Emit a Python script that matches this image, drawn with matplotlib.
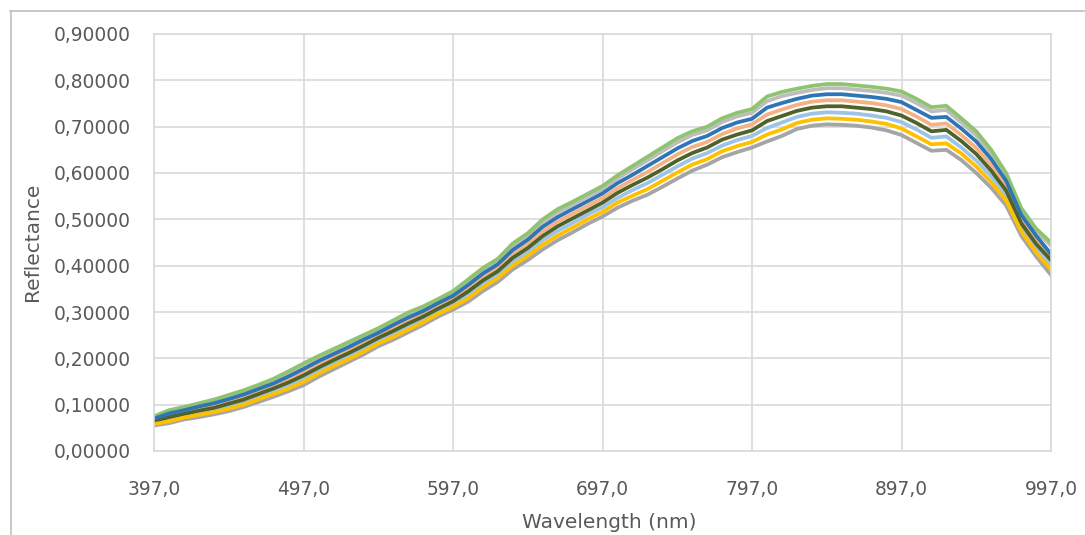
import matplotlib
matplotlib.use("Agg")
import matplotlib.pyplot as plt
from matplotlib.lines import Line2D
from matplotlib.ticker import FuncFormatter

# длины волн (нм), шаг 10
wavelength = [397, 407, 417, 427, 437, 447, 457, 467, 477, 487,
              497, 507, 517, 527, 537, 547, 557, 567, 577, 587,
              597, 607, 617, 627, 637, 647, 657, 667, 677, 687,
              697, 707, 717, 727, 737, 747, 757, 767, 777, 787,
              797, 807, 817, 827, 837, 847, 857, 867, 877, 887,
              897, 907, 917, 927, 937, 947, 957, 967, 977, 987, 997]

# коэффициенты отражения
s_green = [.075, .088, .095, .103, .111, .121, .131, .143, .156, .172,
           .189, .205, .220, .235, .250, .265, .282, .299, .312, .328,
           .345, .370, .395, .415, .448, .470, .500, .522, .538, .555,
           .572, .595, .615, .635, .655, .675, .690, .700, .718, .730,
           .738, .765, .775, .782, .788, .792, .792, .789, .786, .782,
           .776, .760, .742, .745, .718, .690, .650, .600, .525, .480, .450]
s_gray = [.073, .085, .092, .100, .108, .118, .127, .139, .152, .168,
          .184, .201, .216, .231, .246, .261, .278, .295, .308, .324,
          .341, .365, .390, .410, .442, .464, .494, .515, .531, .549,
          .565, .588, .608, .627, .647, .666, .682, .692, .710, .722,
          .730, .755, .766, .773, .779, .783, .783, .780, .777, .773,
          .767, .751, .733, .736, .709, .681, .642, .593, .519, .474, .443]
s_blue = [.070, .081, .088, .096, .103, .112, .122, .134, .146, .161,
          .177, .194, .209, .224, .240, .255, .272, .288, .302, .319,
          .335, .358, .383, .403, .434, .456, .484, .505, .522, .539,
          .556, .578, .596, .615, .634, .653, .669, .680, .697, .709,
          .717, .741, .751, .760, .767, .770, .770, .767, .764, .760,
          .753, .736, .719, .721, .696, .668, .630, .583, .510, .465, .425]
s_peach = [.067, .077, .084, .091, .098, .107, .117, .128, .140, .155,
           .170, .187, .202, .218, .233, .249, .265, .282, .296, .313,
           .329, .351, .375, .395, .426, .447, .474, .495, .512, .529,
           .546, .567, .585, .602, .621, .640, .656, .667, .684, .696,
           .705, .726, .737, .747, .754, .757, .757, .754, .751, .746,
           .738, .722, .704, .707, .682, .654, .617, .572, .501, .456, .422]
s_olive = [.064, .073, .080, .087, .093, .102, .111, .123, .135, .148,
           .163, .180, .196, .211, .227, .244, .259, .275, .290, .307,
           .323, .344, .368, .388, .417, .438, .464, .485, .502, .519,
           .536, .557, .574, .590, .608, .627, .643, .655, .672, .683,
           .692, .712, .723, .734, .741, .744, .744, .741, .738, .733,
           .724, .708, .690, .693, .669, .641, .605, .562, .492, .447, .412]
s_lightblue = [.061, .068, .076, .082, .089, .097, .106, .117, .129, .142,
               .156, .174, .189, .205, .221, .238, .253, .269, .284, .301,
               .317, .336, .360, .380, .409, .429, .455, .475, .492, .510,
               .526, .546, .563, .578, .596, .614, .631, .643, .659, .671,
               .680, .697, .709, .721, .728, .731, .730, .728, .724, .719,
               .710, .694, .676, .679, .655, .627, .593, .551, .483, .438, .401]
s_yellow = [.058, .064, .072, .078, .084, .091, .100, .112, .123, .135,
            .149, .167, .183, .198, .214, .232, .246, .262, .278, .296,
            .311, .329, .353, .373, .400, .421, .445, .465, .482, .500,
            .516, .536, .551, .565, .583, .601, .618, .630, .647, .658,
            .667, .683, .694, .708, .715, .718, .717, .715, .711, .706,
            .696, .679, .662, .664, .642, .614, .580, .541, .474, .429, .391]
s_bottom = [.055, .060, .068, .073, .079, .086, .095, .106, .117, .129,
            .142, .160, .176, .192, .208, .226, .240, .256, .272, .290,
            .305, .322, .345, .365, .392, .412, .435, .455, .472, .490,
            .506, .525, .540, .553, .570, .588, .605, .618, .634, .645,
            .655, .668, .680, .695, .702, .705, .704, .702, .698, .692,
            .682, .665, .648, .650, .628, .600, .568, .530, .465, .420, .380]

series = [
    (s_bottom, '#A5A5A5'),
    (s_gray, '#BDBDBD'),
    (s_peach, '#F4B183'),
    (s_lightblue, '#9DC3E6'),
    (s_olive, '#4F6228'),
    (s_yellow, '#FFC000'),
    (s_green, '#8FC46F'),
    (s_blue, '#2E75B6'),
]

text_col = '#595959'
grid_col = '#D9D9D9'

fig = plt.figure(figsize=(10.85, 5.35), dpi=100)
ax = fig.add_axes([154 / 1085, 1 - 451 / 535, 897 / 1085, 417 / 535])

for vals, col in series:
    ax.plot(wavelength, vals, color=col, linewidth=2.7, solid_joinstyle='round')

ax.set_xlim(397, 997)
ax.set_ylim(0, 0.9)
ax.set_xticks([397, 497, 597, 697, 797, 897, 997])
ax.set_yticks([0, 0.1, 0.2, 0.3, 0.4, 0.5, 0.6, 0.7, 0.8, 0.9])
ax.xaxis.set_major_formatter(FuncFormatter(lambda v, p: f"{v:.1f}".replace('.', ',')))
ax.yaxis.set_major_formatter(FuncFormatter(lambda v, p: f"{v:.5f}".replace('.', ',')))
ax.tick_params(axis='both', length=0, labelsize=13.4, colors=text_col)
ax.tick_params(axis='x', pad=21)
ax.tick_params(axis='y', pad=17)
ax.grid(True, color=grid_col, linewidth=1.2)
ax.set_axisbelow(True)
for sp in ax.spines.values():
    sp.set_color(grid_col)
    sp.set_linewidth(1.2)

fig.text(609 / 1085, 1 - 523 / 535, 'Wavelength (nm)', ha='center', va='center',
         fontsize=14.5, color=text_col)
fig.text(33 / 1085, 1 - 242 / 535, 'Reflectance', ha='center', va='center',
         rotation=90, fontsize=14.5, color=text_col)

# рамка области диаграммы
fig.add_artist(Line2D([10 / 1085, 1], [1 - 11 / 535, 1 - 11 / 535], color='#BFBFBF', linewidth=1.2))
fig.add_artist(Line2D([11 / 1085, 11 / 1085], [0, 1 - 11 / 535], color='#BFBFBF', linewidth=1.2))

fig.savefig('out.png', dpi=100)
